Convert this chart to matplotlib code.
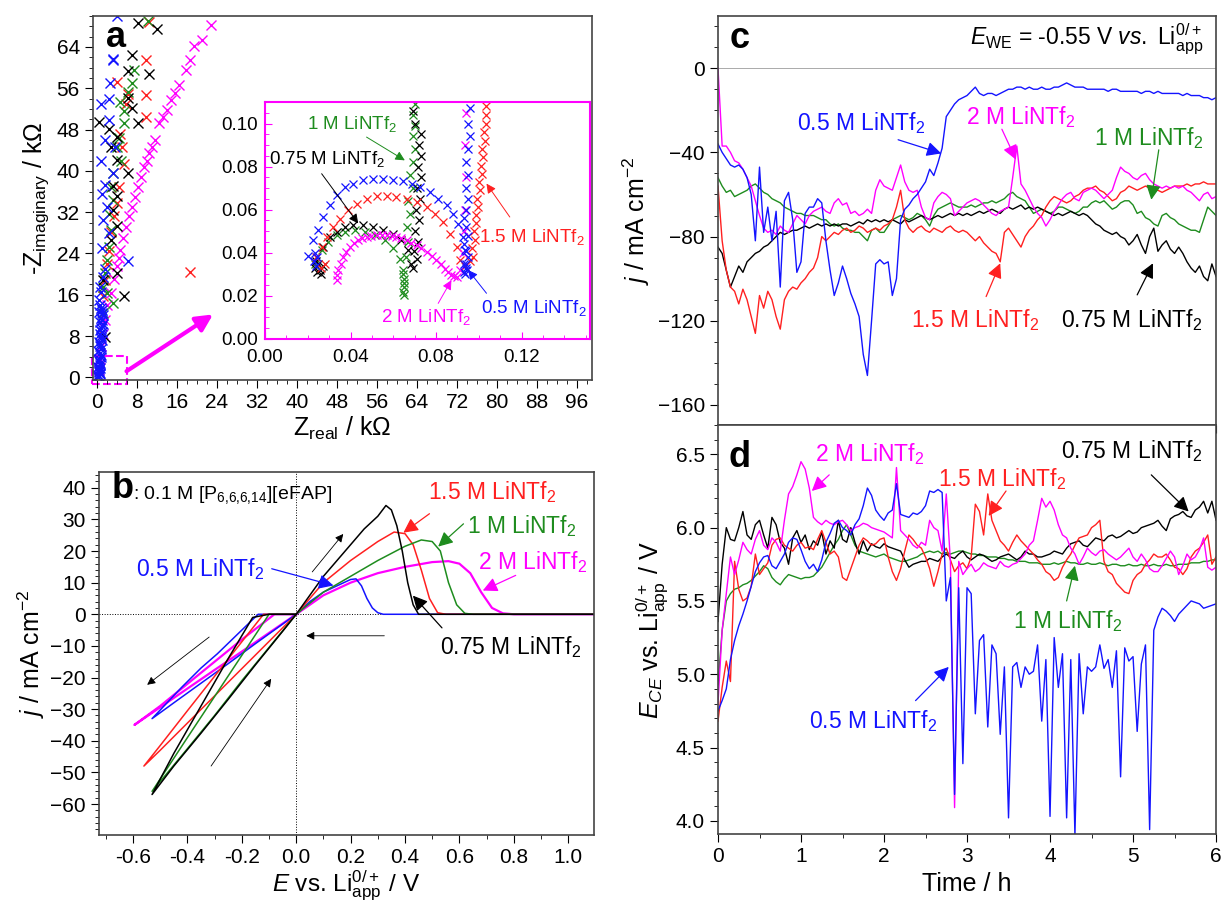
import numpy as np
import matplotlib
matplotlib.use('Agg')
import matplotlib.pyplot as plt
from matplotlib.patches import Rectangle
from matplotlib.ticker import MultipleLocator

plt.rcParams['font.family'] = ['Liberation Sans', 'DejaVu Sans']
plt.rcParams['mathtext.fontset'] = 'custom'
plt.rcParams['mathtext.rm'] = 'Liberation Sans'
plt.rcParams['mathtext.it'] = 'Liberation Sans:italic'
plt.rcParams['mathtext.bf'] = 'Liberation Sans:bold'
plt.rcParams['axes.linewidth'] = 1.2
plt.rcParams['axes.edgecolor'] = '#444444'

BLUE = '#1414ff'
RED = '#ff2020'
GREEN = '#1e8c1e'
MAG = '#ff00ff'
BLACK = 'black'

# ---------------- panel a: Nyquist plots (kOhm) ----------------
a_pink_x = [0.3, 0.5, 0.8, 1.1, 1.5, 2.0, 2.7, 3.3, 3.9, 4.3, 4.6, 5.2, 5.8, 6.4, 7.0, 7.6, 8.1, 8.7, 9.3, 9.9, 10.4,
            11.0, 11.6, 12.4, 13.1, 13.9, 14.7, 15.5, 16.3, 17.8, 18.6, 19.4, 20.9, 22.8]
a_pink_y = [1.5, 3.5, 6.0, 8.5, 11.2, 14.0, 16.4, 19.0, 21.5, 23.2, 24.7, 27.0, 29.2, 31.2, 33.1, 35.0, 36.9, 38.8, 40.8,
            42.0, 43.4, 44.6, 45.9, 49.2, 50.5, 51.7, 53.7, 55.0, 56.6, 59.5, 61.4, 64.1, 65.3, 68.3]
a_blue_x = [3.9, 3.1, 3.2, 2.5, 0.8, 2.3, 2.3, 1.5, 3.5, 0.8, 3.1, 1.5, 0.9, 1.9, 1.1, 2.3, 0.9, 6.2, 1.5, 1.1,
            0.2, 0.5, 0.3, 0.6, 0.4, 0.7, 0.5, 0.8, 0.6, 0.9, 0.7, 1.0, 0.8, 1.1, 0.9, 1.2, 1.0, 0.6, 0.4, 0.1,
            0.3, 0.5, 0.2, 0.6, 0.4, 0.7, 0.3, 0.5, 0.4, 0.6, 0.2, 0.4, 0.7, 0.5, 0.3, 0.8, 0.6, 0.9, 0.5, 0.7,
            1.0, 0.8, 0.6]
a_blue_y = [69.9, 61.4, 61.7, 57.0, 53.0, 54.0, 49.8, 45.9, 44.6, 42.0, 39.5, 37.2, 35.6, 33.1, 30.5, 27.9, 25.0, 22.5, 21.0, 19.5,
            0.0, 0.8, 1.6, 2.4, 3.2, 4.0, 4.8, 5.6, 6.4, 7.2, 8.0, 8.8, 9.6, 10.4, 11.2, 12.0, 13.0, 14.0, 15.0, 0.4,
            1.2, 2.8, 5.2, 9.2, 12.6, 16.5, 0.3, 0.6, 1.0, 1.9, 2.0, 3.6, 4.4, 6.0, 6.8, 7.6, 8.4, 10.0, 10.8, 11.6,
            12.4, 13.5, 17.5]
a_green_x = [10.1, 7.3, 7.0, 6.2, 4.6, 5.4, 5.4, 4.4, 3.9, 4.7, 3.1, 2.7, 3.1, 2.3, 2.7, 2.3, 1.9, 1.5, 1.1, 1.9, 3.1, 1.1]
a_green_y = [69.1, 59.5, 57.0, 55.3, 53.3, 51.6, 49.3, 46.4, 44.7, 42.0, 39.5, 36.9, 34.4, 31.7, 28.5, 25.3, 22.7, 20.2,
             17.6, 16.4, 14.4, 12.5]
a_red_x = [10.4, 9.7, 9.7, 9.7, 18.6, 3.9, 6.2, 5.8, 4.6, 5.0, 5.4, 4.4, 3.9, 3.4, 2.7, 2.3, 1.9, 1.5, 1.1]
a_red_y = [68.8, 61.4, 54.6, 50.4, 20.5, 57.2, 54.9, 53.0, 47.2, 44.7, 41.4, 36.9, 33.8, 31.3, 28.2, 24.5, 22.0, 18.8, 15.7]
a_black_x = [8.1, 12.0, 7.0, 6.2, 10.4, 6.2, 7.0, 8.1, 0.3, 2.3, 3.9, 2.7, 3.9, 6.2, 3.1, 3.9, 3.1, 3.9, 2.7, 3.9, 5.4,
             1.1, 1.5]
a_black_y = [68.6, 67.5, 62.4, 59.3, 58.8, 54.1, 52.2, 49.2, 49.5, 48.2, 46.6, 44.7, 42.2, 39.6, 37.0, 35.1, 32.5, 29.3,
             26.7, 20.2, 15.7, 18.8, 7.9]

# inset (kOhm)
in_blue_x = [0.0202, 0.0226, 0.0249, 0.0273, 0.0304, 0.0335, 0.0374, 0.0413, 0.0460, 0.0506, 0.0553, 0.0600, 0.0647,
             0.0686, 0.0724, 0.0771, 0.0810, 0.0849, 0.0880, 0.0903, 0.0927, 0.0935, 0.0942,
             0.0230, 0.0238, 0.0245, 0.0236,
             0.0930, 0.0940, 0.0930, 0.0950, 0.0940, 0.0930, 0.0950, 0.0940, 0.0930, 0.0940, 0.0950, 0.0940,
             0.0950, 0.0940, 0.0950, 0.0960, 0.0950, 0.0960, 0.0935, 0.0945]
in_blue_y = [0.0386, 0.0458, 0.0505, 0.0567, 0.0620, 0.0667, 0.0705, 0.0720, 0.0736, 0.0744, 0.0744, 0.0739, 0.0733,
             0.0720, 0.0705, 0.0682, 0.0651, 0.0620, 0.0582, 0.0535, 0.0474, 0.0412, 0.0350,
             0.0360, 0.0340, 0.0380, 0.0400,
             0.0310, 0.0330, 0.0350, 0.0380, 0.0410, 0.0440, 0.0480, 0.0520, 0.0560, 0.0600, 0.0650, 0.0700,
             0.0760, 0.0820, 0.0880, 0.0940, 0.1000, 0.1070, 0.0300, 0.0320]
in_red_x = [0.0240, 0.0265, 0.0288, 0.0319, 0.0350, 0.0389, 0.0428, 0.0475, 0.0522, 0.0569, 0.0615, 0.0662, 0.0709,
            0.0756, 0.0795, 0.0833, 0.0865, 0.0896, 0.0911, 0.0260, 0.0280,
            0.0935, 0.0960, 0.0974, 0.0970, 0.0981, 0.0978, 0.0989, 0.0985, 0.0997, 0.0993, 0.1005, 0.1000,
            0.1013, 0.1010, 0.1020, 0.1017, 0.1028, 0.1025, 0.1036, 0.1032, 0.1036]
in_red_y = [0.0380, 0.0427, 0.0474, 0.0520, 0.0559, 0.0597, 0.0628, 0.0651, 0.0662, 0.0662, 0.0659, 0.0651, 0.0636,
            0.0613, 0.0582, 0.0543, 0.0489, 0.0427, 0.0366, 0.0330, 0.0350,
            0.0340, 0.0360, 0.0381, 0.0420, 0.0458, 0.0500, 0.0536, 0.0575, 0.0613, 0.0650, 0.0690, 0.0730,
            0.0767, 0.0805, 0.0844, 0.0880, 0.0921, 0.0960, 0.1000, 0.1040, 0.1080]
in_black_x = [0.0235, 0.0245, 0.0255, 0.0262, 0.0270, 0.0250, 0.0240,
              0.0273, 0.0304, 0.0335, 0.0374, 0.0413, 0.0460, 0.0506, 0.0553, 0.0600, 0.0638, 0.0670, 0.0685,
              0.0690, 0.0710, 0.0695, 0.0715, 0.0700, 0.0720, 0.0705, 0.0725, 0.0710, 0.0730, 0.0715, 0.0732,
              0.0720, 0.0728, 0.0700, 0.0690]
in_black_y = [0.0330, 0.0310, 0.0320, 0.0300, 0.0340, 0.0350, 0.0360,
              0.0427, 0.0474, 0.0497, 0.0520, 0.0528, 0.0528, 0.0520, 0.0508, 0.0489, 0.0458, 0.0412, 0.0350,
              0.0330, 0.0370, 0.0410, 0.0450, 0.0500, 0.0550, 0.0600, 0.0650, 0.0700, 0.0750, 0.0800, 0.0850,
              0.0900, 0.0950, 0.1000, 0.1060]
in_green_x = [0.0234, 0.0265, 0.0296, 0.0335, 0.0374, 0.0421, 0.0467, 0.0514, 0.0561, 0.0600, 0.0631, 0.0646,
              0.0645, 0.0650, 0.0648, 0.0652, 0.0647, 0.0650,
              0.0660, 0.0670, 0.0665, 0.0680, 0.0670, 0.0690, 0.0680, 0.0690, 0.0700, 0.0690, 0.0700, 0.0690,
              0.0700]
in_green_y = [0.0350, 0.0412, 0.0450, 0.0481, 0.0497, 0.0505, 0.0497, 0.0481, 0.0458, 0.0420, 0.0373, 0.0319,
              0.0300, 0.0280, 0.0260, 0.0240, 0.0220, 0.0205,
              0.0380, 0.0450, 0.0520, 0.0580, 0.0640, 0.0700, 0.0760, 0.0820, 0.0880, 0.0940, 0.0990, 0.1040,
              0.1090]
in_pink_x = [0.0335, 0.0339, 0.0343, 0.0354, 0.0366, 0.0381, 0.0397, 0.0416, 0.0436, 0.0455, 0.0475, 0.0498, 0.0522,
             0.0545, 0.0569, 0.0592, 0.0615, 0.0638, 0.0662, 0.0685, 0.0709, 0.0732, 0.0756, 0.0779, 0.0802,
             0.0821, 0.0841, 0.0857, 0.0872, 0.0885, 0.0896,
             0.0910, 0.0925, 0.0930, 0.0935, 0.0940, 0.0935, 0.0940]
in_pink_y = [0.0273, 0.0296, 0.0319, 0.0350, 0.0381, 0.0405, 0.0427, 0.0444, 0.0458, 0.0467, 0.0474, 0.0478, 0.0481,
             0.0482, 0.0481, 0.0478, 0.0474, 0.0467, 0.0458, 0.0447, 0.0435, 0.0420, 0.0404, 0.0386, 0.0366,
             0.0347, 0.0327, 0.0311, 0.0296, 0.0290, 0.0288,
             0.0320, 0.0400, 0.0500, 0.0600, 0.0750, 0.0900, 0.1050]

# ---------------- panel b: CVs ----------------
cv_black_E = [0.0, -0.10, -0.16, -0.25, -0.35, -0.45, -0.53, -0.45, -0.35, -0.25, -0.15, -0.05, 0.0,
              0.05, 0.10, 0.15, 0.20, 0.25, 0.30, 0.33, 0.35, 0.37, 0.39, 0.41, 0.43, 0.45, 1.10]
cv_black_j = [0, 0, -1, -14, -29, -44, -57, -48, -37.6, -26.9, -16, -5.4, 0,
              6, 12, 17, 22, 27, 31, 34.4, 33, 28, 20, 10, 3, 0, 0]
cv_red_E = [0.0, -0.12, -0.20, -0.30, -0.40, -0.50, -0.56, -0.50, -0.40, -0.30, -0.20, -0.10, 0.0,
            0.10, 0.20, 0.30, 0.36, 0.40, 0.43, 0.46, 0.49, 0.52, 0.55, 1.10]
cv_red_j = [0, 0, -8.7, -19.6, -30.5, -41.5, -48, -43, -34.4, -25.8, -17.2, -8.6, 0,
            10, 17, 23, 26, 25.5, 22, 14, 5, 0.5, 0, 0]
cv_green_E = [0.0, -0.10, -0.20, -0.30, -0.40, -0.53, -0.40, -0.30, -0.20, -0.10, 0.0,
              0.10, 0.20, 0.30, 0.40, 0.46, 0.50, 0.53, 0.56, 0.59, 0.62, 0.65, 1.10]
cv_green_j = [0, 0, -13, -26, -39, -56, -42.5, -32, -21, -10.5, 0,
              7, 12, 17, 21.5, 23.5, 23, 20, 10, 3, 0.3, 0, 0]
cv_blue_E = [0.0, -0.14, -0.20, -0.29, -0.35, -0.42, -0.53, -0.45, -0.35, -0.25, -0.15, -0.05, 0.0,
             0.05, 0.10, 0.15, 0.20, 0.22, 0.24, 0.26, 0.28, 0.30, 0.32, 1.10]
cv_blue_j = [0, 0, -5, -12.5, -17, -23, -33, -28, -21.8, -15.6, -9.3, -3.1, 0,
             4, 7, 9, 11, 11.2, 9, 5, 2, 0.5, 0, 0]
cv_pink_E = [0.0, -0.08, -0.20, -0.30, -0.40, -0.50, -0.595, -0.50, -0.40, -0.30, -0.20, -0.10, 0.0,
             0.10, 0.20, 0.30, 0.40, 0.50, 0.56, 0.60, 0.64, 0.68, 0.72, 0.76, 0.80, 1.10]
cv_pink_j = [0, 0, -8, -15, -22, -29, -35, -29.4, -23.5, -17.6, -11.8, -5.9, 0,
             6, 10, 13, 15, 16.5, 16.8, 16, 13, 7, 2, 0.3, 0, 0]

# ---------------- panels c, d: chronoamperometry, t = 0..6 h every 0.05 h ----------------
t_h = np.round(np.arange(121) * 0.05, 2)

c_blue = [-36, -40, -43, -46, -47, -46, -48, -52, -60, -82,
          -47, -78, -66, -82, -68, -104, -63, -59, -72, -97,
          -92, -69, -66, -66, -62, -64, -82, -96, -108, -102,
          -94, -100, -107, -112, -118, -136, -146, -120, -93, -91,
          -93, -92, -108, -100, -72, -67, -65, -62, -60, -57,
          -54, -48, -51, -45, -38, -23, -20, -17, -15, -14,
          -13, -11, -9, -12, -13, -12, -12, -13, -12, -11,
          -10, -10, -9, -9, -10, -9, -10, -10, -9, -10,
          -10, -9, -9, -8, -7, -8, -9, -9, -9, -10,
          -10, -10, -10, -10, -11, -10, -10, -11, -11, -11,
          -11, -11, -12, -11, -11, -12, -11, -12, -12, -12,
          -12, -12, -13, -12, -13, -13, -13, -14, -14, -15,
          -14]
c_pink = [0, -37, -37, -40, -44, -45, -48, -52, -56, -63,
          -70, -76, -78, -77, -79, -75, -77, -78, -74, -70,
          -72, -74, -70, -68, -67, -66, -68, -69, -64, -62,
          -65, -64, -69, -68, -70, -69, -67, -69, -58, -53,
          -56, -57, -58, -52, -46, -54, -58, -59, -58, -66,
          -71, -72, -64, -61, -59, -60, -62, -70, -68, -66,
          -64, -63, -62, -63, -65, -67, -69, -70, -68, -67,
          -66, -52, -37, -55, -58, -62, -66, -69, -71, -75,
          -72, -68, -65, -62, -60, -59, -62, -63, -59, -58,
          -57, -58, -60, -62, -60, -58, -52, -47, -49, -50,
          -52, -53, -51, -50, -53, -55, -56, -57, -56, -57,
          -56, -57, -56, -58, -59, -61, -63, -60, -59, -62,
          -61]
c_green = [-52, -56, -59, -58, -61, -60, -59, -58, -56, -55,
           -57, -59, -60, -62, -63, -64, -66, -67, -68, -69,
           -69, -70, -70, -70, -71, -72, -72, -74, -75, -74,
           -76, -77, -77, -78, -78, -80, -82, -77, -76, -78,
           -78, -75, -72, -71, -70, -71, -72, -71, -69, -70,
           -72, -75, -70, -67, -66, -65, -64, -65, -66, -66,
           -66, -65, -66, -65, -64, -64, -63, -64, -63, -62,
           -60, -59, -61, -62, -63, -66, -69, -68, -67, -68,
           -69, -68, -66, -66, -67, -68, -69, -68, -66, -66,
           -64, -63, -64, -63, -65, -67, -66, -64, -63, -63,
           -65, -69, -68, -71, -72, -74, -75, -70, -69, -71,
           -72, -74, -75, -76, -77, -77, -78, -72, -66, -68,
           -70]
c_red = [-56, -82, -96, -104, -106, -112, -105, -110, -118, -126,
         -108, -114, -106, -110, -118, -124, -110, -106, -104, -105,
         -102, -100, -97, -95, -90, -80, -82, -80, -78, -79,
         -77, -76, -78, -77, -75, -76, -78, -77, -76, -77,
         -75, -74, -72, -66, -58, -72, -76, -78, -76, -75,
         -77, -78, -76, -77, -78, -76, -75, -77, -78, -77,
         -78, -80, -82, -80, -83, -85, -87, -88, -92, -78,
         -76, -79, -82, -85, -80, -77, -75, -72, -70, -66,
         -63, -61, -62, -63, -64, -63, -61, -60, -58, -57,
         -57, -56, -58, -59, -61, -63, -62, -59, -58, -56,
         -57, -58, -57, -56, -57, -58, -58, -59, -58, -57,
         -56, -56, -56, -55, -56, -55, -55, -54, -55, -55,
         -55]
c_black = [-85, -88, -96, -104, -99, -94, -97, -92, -90, -88,
           -87, -85, -84, -82, -80, -78, -79, -78, -77, -77,
           -76, -75, -76, -75, -74, -75, -74, -75, -74, -75,
           -74, -74, -75, -74, -73, -74, -72, -73, -72, -73,
           -72, -73, -72, -73, -74, -72, -73, -72, -71, -70,
           -71, -72, -71, -70, -71, -70, -69, -70, -69, -70,
           -69, -70, -69, -68, -69, -68, -67, -68, -69, -67,
           -66, -67, -66, -65, -67, -66, -67, -66, -67, -68,
           -69, -70, -69, -70, -69, -68, -69, -70, -69, -70,
           -72, -74, -75, -77, -78, -79, -78, -80, -81, -84,
           -82, -79, -84, -88, -80, -76, -87, -84, -82, -86,
           -88, -85, -88, -92, -95, -97, -94, -99, -101, -93,
           -99]

d_blue = [4.75, 4.82, 4.90, 5.10, 5.23, 5.33, 5.41, 5.50, 5.60, 5.70,
          5.76, 5.80, 5.81, 5.74, 5.72, 5.77, 5.82, 5.90, 5.93, 5.92,
          5.85, 5.77, 5.72, 5.75, 5.70, 5.78, 5.90, 5.96, 6.03, 6.05,
          6.00, 5.98, 5.95, 6.02, 6.06, 6.15, 6.27, 6.22, 6.12, 6.08,
          6.05, 6.10, 6.12, 6.30, 6.09, 6.08, 6.07, 6.10, 6.09, 6.11,
          6.15, 6.25, 6.24, 6.26, 6.24, 5.50, 5.66, 4.18, 5.59, 4.39,
          5.59, 5.55, 4.73, 5.23, 5.27, 4.64, 5.20, 5.14, 4.59, 5.05,
          4.02, 5.05, 5.08, 4.91, 5.05, 5.00, 5.02, 5.20, 4.68, 5.10,
          4.03, 5.25, 4.91, 5.14, 4.02, 5.10, 3.90, 5.14, 4.73, 5.05,
          5.02, 5.05, 5.20, 5.04, 5.10, 4.91, 5.16, 4.30, 5.18, 5.09,
          5.12, 4.61, 5.07, 5.20, 3.94, 5.30, 5.39, 5.45, 5.43, 5.40,
          5.36, 5.41, 5.44, 5.47, 5.50, 5.49, 5.48, 5.45, 5.46, 5.47,
          5.48]
d_pink = [4.80, 5.30, 5.55, 5.80, 5.68, 5.78, 5.90, 5.85, 5.82, 5.92,
          5.98, 5.88, 5.85, 5.93, 5.90, 5.84, 6.05, 6.23, 6.28, 6.36,
          6.45, 6.40, 6.27, 6.07, 6.04, 6.02, 6.05, 6.03, 6.02, 6.04,
          6.05, 6.02, 5.98, 6.00, 6.01, 6.03, 6.02, 6.00, 5.99, 5.98,
          5.97, 5.95, 5.93, 6.41, 5.98, 5.95, 5.92, 5.88, 5.86, 5.90,
          5.88, 6.05, 6.00, 5.98, 5.84, 6.23, 5.77, 4.09, 5.77, 5.68,
          5.72, 5.75, 5.70, 5.72, 5.76, 5.74, 5.73, 5.72, 5.77, 5.74,
          5.73, 5.75, 5.76, 5.79, 5.82, 5.88, 5.91, 6.05, 6.20, 6.14,
          6.18, 6.12, 6.02, 5.95, 5.93, 5.86, 5.82, 5.75, 5.80, 5.86,
          5.83, 5.81, 5.84, 5.85, 5.82, 5.80, 5.78, 5.80, 5.83, 5.86,
          5.80, 5.77, 5.82, 5.78, 5.72, 5.70, 5.70, 5.74, 5.79, 5.84,
          5.80, 5.68, 5.74, 5.82, 5.78, 5.80, 5.85, 5.93, 5.73, 5.71,
          5.73]
d_red = [4.68, 4.91, 5.09, 4.95, 5.77, 5.58, 5.50, 5.52, 5.60, 5.82,
         5.68, 5.72, 5.76, 5.88, 5.92, 5.93, 5.88, 5.86, 5.84, 5.88,
         5.90, 5.86, 5.87, 5.85, 5.92, 5.98, 5.90, 5.82, 5.84, 5.80,
         5.66, 5.64, 5.72, 5.80, 5.88, 5.93, 5.91, 5.88, 5.89, 5.92,
         5.93, 5.80, 5.70, 5.64, 5.72, 5.84, 5.95, 5.92, 5.88, 5.86,
         5.80, 5.72, 5.60, 5.70, 5.82, 5.86, 5.78, 5.70, 5.74, 5.76,
         5.72, 5.80, 6.16, 6.11, 5.95, 6.23, 6.05, 5.98, 5.91, 5.88,
         5.84, 5.90, 5.95, 5.91, 5.88, 5.85, 5.82, 5.78, 5.75, 5.70,
         5.68, 5.64, 5.66, 5.73, 5.78, 5.82, 5.88, 5.93, 5.94, 5.95,
         6.00, 6.02, 6.05, 5.77, 5.70, 5.68, 5.62, 5.59, 5.56, 5.55,
         5.64, 5.68, 5.70, 5.75, 5.78, 5.82, 5.80, 5.80, 5.82, 5.78,
         5.73, 5.72, 5.68, 5.72, 5.80, 5.84, 5.86, 5.90, 5.95, 5.75,
         5.80]
d_green = [4.93, 5.30, 5.50, 5.55, 5.58, 5.59, 5.61, 5.62, 5.64, 5.67,
           5.70, 5.74, 5.72, 5.66, 5.63, 5.61, 5.65, 5.68, 5.67, 5.66,
           5.65, 5.66, 5.66, 5.67, 5.70, 5.73, 5.78, 5.83, 5.88, 5.92,
           5.98, 6.02, 5.95, 5.88, 5.84, 5.83, 5.82, 5.81, 5.80, 5.81,
           5.82, 5.80, 5.79, 5.78, 5.77, 5.77, 5.78, 5.79, 5.80, 5.82,
           5.83, 5.84, 5.83, 5.84, 5.82, 5.83, 5.82, 5.83, 5.84, 5.84,
           5.83, 5.82, 5.82, 5.81, 5.81, 5.80, 5.80, 5.80, 5.79, 5.79,
           5.78, 5.78, 5.77, 5.77, 5.77, 5.76, 5.76, 5.76, 5.75, 5.75,
           5.75, 5.76, 5.75, 5.76, 5.77, 5.76, 5.76, 5.75, 5.75, 5.76,
           5.75, 5.75, 5.76, 5.75, 5.74, 5.75, 5.75, 5.74, 5.74, 5.75,
           5.74, 5.74, 5.75, 5.74, 5.74, 5.75, 5.74, 5.74, 5.75, 5.74,
           5.74, 5.75, 5.75, 5.75, 5.76, 5.76, 5.76, 5.77, 5.77, 5.78,
           5.78]
d_black = [5.36, 5.75, 6.00, 5.92, 5.91, 6.00, 6.11, 5.95, 5.92, 6.02,
           6.05, 5.95, 5.86, 6.07, 6.02, 5.90, 5.86, 5.75, 5.93, 5.98,
           5.90, 5.95, 5.85, 5.91, 5.88, 5.97, 5.82, 5.91, 5.86, 6.05,
           5.92, 5.90, 6.00, 5.90, 5.82, 5.91, 5.84, 5.89, 5.87, 5.86,
           5.89, 5.87, 5.86, 5.85, 5.84, 5.78, 5.73, 5.75, 5.76, 5.77,
           5.77, 5.79, 5.78, 5.77, 5.80, 5.82, 5.80, 5.79, 5.82, 5.84,
           5.80, 5.78, 5.80, 5.82, 5.81, 5.79, 5.77, 5.78, 5.80, 5.81,
           5.82, 5.80, 5.78, 5.80, 5.84, 5.82, 5.82, 5.80, 5.80, 5.81,
           5.82, 5.84, 5.83, 5.82, 5.86, 5.89, 5.90, 5.91, 5.88, 5.87,
           5.90, 5.93, 5.92, 5.91, 5.94, 5.95, 5.93, 5.94, 5.96, 5.98,
           5.96, 5.97, 6.00, 6.01, 6.02, 6.03, 6.05, 6.01, 5.98, 6.06,
           6.08, 6.09, 6.11, 6.08, 6.07, 6.12, 6.14, 6.18, 6.10, 6.18,
           6.05]

FS_TICK = 15
FS_LAB = 18
FS_NOTE = 16.5
FS_INSET = 13.5


def arrow(ax, tail, tip, color, lw=0.9, ms=22):
    ax.annotate('', xy=tip, xytext=tail,
                arrowprops=dict(arrowstyle='-|>', color=color, lw=lw, mutation_scale=ms,
                                shrinkA=0, shrinkB=0))


def label(ax, text, pos, color, fs=FS_NOTE):
    ax.text(pos[0], pos[1], text, color=color, fontsize=fs, ha='center', va='center')


fig = plt.figure(figsize=(12.24, 9.08), dpi=100)

# ---------------- a ----------------
ax_a = fig.add_axes([0.076, 0.5815, 0.4077, 0.4009])
mk = dict(marker='x', ls='none', ms=7, mew=1.0)
ax_a.plot(a_pink_x, a_pink_y, color=MAG, **mk)
ax_a.plot(a_red_x, a_red_y, color=RED, **mk)
ax_a.plot(a_green_x, a_green_y, color=GREEN, **mk)
ax_a.plot(a_black_x, a_black_y, color=BLACK, **mk)
ax_a.plot(a_blue_x, a_blue_y, color=BLUE, **mk)
ax_a.set_xlim(-0.8, 99)
ax_a.set_ylim(-0.5, 70)
ax_a.xaxis.set_major_locator(MultipleLocator(8))
ax_a.xaxis.set_minor_locator(MultipleLocator(2))
ax_a.yaxis.set_major_locator(MultipleLocator(8))
ax_a.yaxis.set_minor_locator(MultipleLocator(2))
ax_a.tick_params(which='both', direction='out', labelsize=FS_TICK, top=False, right=False)
ax_a.tick_params(which='major', length=6)
ax_a.tick_params(which='minor', length=3)
ax_a.set_xlabel('Z$_{\\rm real}$ / kΩ', fontsize=FS_LAB, labelpad=2)
ax_a.set_ylabel('-Z$_{\\rm imaginary}$ / kΩ', fontsize=FS_LAB, labelpad=4)
ax_a.text(0.046, 0.94, 'a', transform=ax_a.transAxes, fontsize=26, fontweight='bold', ha='center', va='center')
ax_a.add_patch(Rectangle((-1.0, -1.3), 7.0, 5.4, fill=False, ls='--', lw=1.5, ec=MAG, clip_on=False))
arrow(ax_a, (5.9, 1.2), (23.2, 12.2), MAG, lw=3, ms=25)

ax_in = fig.add_axes([0.2165, 0.6267, 0.2655, 0.261])
mk2 = dict(marker='x', ls='none', ms=6, mew=0.9)
ax_in.plot(in_green_x, in_green_y, color=GREEN, **mk2)
ax_in.plot(in_black_x, in_black_y, color=BLACK, **mk2)
ax_in.plot(in_red_x, in_red_y, color=RED, **mk2)
ax_in.plot(in_pink_x, in_pink_y, color=MAG, **mk2)
ax_in.plot(in_blue_x, in_blue_y, color=BLUE, **mk2)
ax_in.set_xlim(0, 0.152)
ax_in.set_ylim(0, 0.11)
ax_in.xaxis.set_major_locator(MultipleLocator(0.04))
ax_in.xaxis.set_minor_locator(MultipleLocator(0.01))
ax_in.yaxis.set_major_locator(MultipleLocator(0.02))
ax_in.yaxis.set_minor_locator(MultipleLocator(0.005))
ax_in.xaxis.set_major_formatter(plt.FormatStrFormatter('%.2f'))
ax_in.yaxis.set_major_formatter(plt.FormatStrFormatter('%.2f'))
for s in ax_in.spines.values():
    s.set_edgecolor(MAG)
    s.set_linewidth(1.5)
ax_in.tick_params(which='both', direction='in', colors=MAG, labelcolor='black', labelsize=FS_INSET,
                  top=False, right=False)
ax_in.tick_params(which='major', length=5)
ax_in.tick_params(which='minor', length=3)
ax_in.tick_params(axis='x', pad=7)
ax_in.tick_params(axis='y', pad=5)
label(ax_in, '1 M LiNTf$_2$', (0.0407, 0.1000), GREEN, fs=FS_INSET)
arrow(ax_in, (0.0475, 0.0937), (0.0654, 0.0829), GREEN, lw=0.7, ms=14)
label(ax_in, '0.75 M LiNTf$_2$', (0.0288, 0.0837), BLACK, fs=FS_INSET)
arrow(ax_in, (0.0265, 0.0767), (0.0436, 0.0536), BLACK, lw=0.7, ms=14)
label(ax_in, '1.5 M LiNTf$_2$', (0.1246, 0.0474), RED, fs=FS_INSET)
arrow(ax_in, (0.1145, 0.0566), (0.1036, 0.0721), RED, lw=0.7, ms=14)
label(ax_in, '2 M LiNTf$_2$', (0.0755, 0.0103), MAG, fs=FS_INSET)
arrow(ax_in, (0.0810, 0.0165), (0.0872, 0.0273), MAG, lw=0.7, ms=14)
label(ax_in, '0.5 M LiNTf$_2$', (0.1257, 0.0142), BLUE, fs=FS_INSET)
arrow(ax_in, (0.1036, 0.0212), (0.0950, 0.0320), BLUE, lw=0.7, ms=14)

# ---------------- b ----------------
ax_b = fig.add_axes([0.0809, 0.0804, 0.4044, 0.3998])
ax_b.axhline(0, color='black', lw=0.7, ls=':')
ax_b.axvline(0, color='black', lw=0.7, ls=':')
ax_b.plot(cv_pink_E, cv_pink_j, color=MAG, lw=1.6)
ax_b.plot(cv_blue_E, cv_blue_j, color=BLUE, lw=1.1)
ax_b.plot(cv_red_E, cv_red_j, color=RED, lw=1.1)
ax_b.plot(cv_green_E, cv_green_j, color=GREEN, lw=1.1)
ax_b.plot(cv_black_E, cv_black_j, color=BLACK, lw=1.1)
ax_b.set_xlim(-0.725, 1.095)
ax_b.set_ylim(-69.8, 45)
ax_b.xaxis.set_major_locator(MultipleLocator(0.2))
ax_b.xaxis.set_minor_locator(MultipleLocator(0.1))
ax_b.yaxis.set_major_locator(MultipleLocator(10))
ax_b.yaxis.set_minor_locator(MultipleLocator(2))
ax_b.xaxis.set_major_formatter(plt.FormatStrFormatter('%.1f'))
ax_b.tick_params(which='both', direction='out', labelsize=FS_TICK, top=False, right=False)
ax_b.tick_params(which='major', length=6)
ax_b.tick_params(which='minor', length=3)
ax_b.set_xlabel('$E$ vs. Li$^{0/+}_{\\rm app}$ / V', fontsize=17.5, labelpad=1)
ax_b.set_ylabel('$j$ / mA cm$^{-2}$', fontsize=FS_LAB, labelpad=2)
tb = ax_b.text(0.025, 0.955, 'b', transform=ax_b.transAxes, fontsize=26, fontweight='bold',
               ha='left', va='center')
ax_b.annotate(': 0.1 M [P$_{\\rm 6{,}6{,}6{,}14}$][eFAP]', xy=(1, 0.3), xycoords=tb, fontsize=14,
              ha='left', va='center')
label(ax_b, '1.5 M LiNTf$_2$', (0.72, 38.5), RED)
arrow(ax_b, (0.49, 31.8), (0.394, 25.8), RED)
label(ax_b, '1 M LiNTf$_2$', (0.83, 28.0), GREEN)
arrow(ax_b, (0.615, 28.6), (0.522, 21.4), GREEN)
label(ax_b, '2 M LiNTf$_2$', (0.868, 16.6), MAG)
arrow(ax_b, (0.807, 12.3), (0.686, 7.5), MAG)
label(ax_b, '0.5 M LiNTf$_2$', (-0.353, 14.4), BLUE)
arrow(ax_b, (-0.09, 14.4), (0.137, 9.1), BLUE)
label(ax_b, '0.75 M LiNTf$_2$', (0.79, -10.3), BLACK)
arrow(ax_b, (0.536, -4.3), (0.429, 5.9), BLACK)
arrow(ax_b, (0.059, 13.4), (0.173, 25.4), BLACK, lw=0.6, ms=12)
arrow(ax_b, (-0.32, -7.2), (-0.548, -22.3), BLACK, lw=0.6, ms=12)
arrow(ax_b, (0.324, -6.8), (0.037, -6.8), BLACK, lw=0.6, ms=12)
arrow(ax_b, (-0.313, -48.0), (-0.092, -20.4), BLACK, lw=0.6, ms=12)

# ---------------- c ----------------
ax_c = fig.add_axes([0.5866, 0.532, 0.4069, 0.4504])
ax_c.axhline(0, color='#aaaaaa', lw=0.7)
ax_c.plot(t_h, c_green, color=GREEN, lw=1.0)
ax_c.plot(t_h, c_black, color=BLACK, lw=1.0)
ax_c.plot(t_h, c_red, color=RED, lw=1.0)
ax_c.plot(t_h, c_pink, color=MAG, lw=1.0)
ax_c.plot(t_h, c_blue, color=BLUE, lw=1.0)
ax_c.set_xlim(0, 6)
ax_c.set_ylim(-169.5, 24.8)
ax_c.xaxis.set_major_locator(MultipleLocator(1))
ax_c.xaxis.set_minor_locator(MultipleLocator(0.5))
ax_c.yaxis.set_major_locator(MultipleLocator(40))
ax_c.yaxis.set_minor_locator(MultipleLocator(10))
ax_c.tick_params(which='both', direction='out', labelsize=FS_TICK, top=False, right=False, labelbottom=False)
ax_c.tick_params(which='major', length=6)
ax_c.tick_params(which='minor', length=3)
ax_c.set_ylabel('$j$ / mA cm$^{-2}$', fontsize=FS_LAB, labelpad=4)
ax_c.text(0.044, 0.945, 'c', transform=ax_c.transAxes, fontsize=26, fontweight='bold', ha='center', va='center')
ax_c.text(0.975, 0.945, '$E_{\\rm WE}$ = -0.55 V $vs.$ Li$^{0/+}_{\\rm app}$', transform=ax_c.transAxes,
          fontsize=16.5, ha='right', va='center')
label(ax_c, '0.5 M LiNTf$_2$', (1.73, -26), BLUE)
arrow(ax_c, (2.17, -34), (2.69, -40.5), BLUE)
label(ax_c, '2 M LiNTf$_2$', (3.65, -23), MAG)
arrow(ax_c, (3.42, -29), (3.59, -43.5), MAG)
label(ax_c, '1 M LiNTf$_2$', (5.19, -33), GREEN)
arrow(ax_c, (5.31, -38.8), (5.22, -62.5), GREEN)
label(ax_c, '1.5 M LiNTf$_2$', (3.10, -119.6), RED)
arrow(ax_c, (3.23, -108.5), (3.40, -92.7), RED)
label(ax_c, '0.75 M LiNTf$_2$', (4.98, -119.6), BLACK)
arrow(ax_c, (5.05, -107.7), (5.24, -92.7), BLACK)

# ---------------- d ----------------
ax_d = fig.add_axes([0.5866, 0.0815, 0.4069, 0.4504])
ax_d.plot(t_h, d_green, color=GREEN, lw=1.0)
ax_d.plot(t_h, d_black, color=BLACK, lw=1.0)
ax_d.plot(t_h, d_red, color=RED, lw=1.0)
ax_d.plot(t_h, d_pink, color=MAG, lw=1.0)
ax_d.plot(t_h, d_blue, color=BLUE, lw=1.0)
ax_d.set_xlim(0, 6)
ax_d.set_ylim(3.91, 6.70)
ax_d.xaxis.set_major_locator(MultipleLocator(1))
ax_d.xaxis.set_minor_locator(MultipleLocator(0.5))
ax_d.yaxis.set_major_locator(MultipleLocator(0.5))
ax_d.yaxis.set_minor_locator(MultipleLocator(0.1))
ax_d.yaxis.set_major_formatter(plt.FormatStrFormatter('%.1f'))
ax_d.tick_params(which='both', direction='out', labelsize=FS_TICK, top=False, right=False)
ax_d.tick_params(which='major', length=6)
ax_d.tick_params(which='minor', length=3)
ax_d.set_xlabel('Time / h', fontsize=FS_LAB, labelpad=4)
ax_d.set_ylabel('$E_{CE}$ vs. Li$^{0/+}_{\\rm app}$ / V', fontsize=FS_LAB, labelpad=4)
ax_d.text(0.044, 0.92, 'd', transform=ax_d.transAxes, fontsize=26, fontweight='bold', ha='center', va='center')
label(ax_d, '2 M LiNTf$_2$', (1.83, 6.50), MAG)
arrow(ax_d, (1.34, 6.36), (1.13, 6.25), MAG)
label(ax_d, '1.5 M LiNTf$_2$', (3.43, 6.33), RED)
arrow(ax_d, (3.47, 6.25), (3.26, 6.08), RED)
label(ax_d, '0.75 M LiNTf$_2$', (4.98, 6.52), BLACK)
arrow(ax_d, (5.22, 6.36), (5.67, 6.11), BLACK)
label(ax_d, '1 M LiNTf$_2$', (4.21, 5.36), GREEN)
arrow(ax_d, (4.20, 5.50), (4.30, 5.74), GREEN)
label(ax_d, '0.5 M LiNTf$_2$', (1.87, 4.68), BLUE)
arrow(ax_d, (2.38, 4.82), (2.78, 5.05), BLUE)

fig.savefig('out.png', dpi=100)
